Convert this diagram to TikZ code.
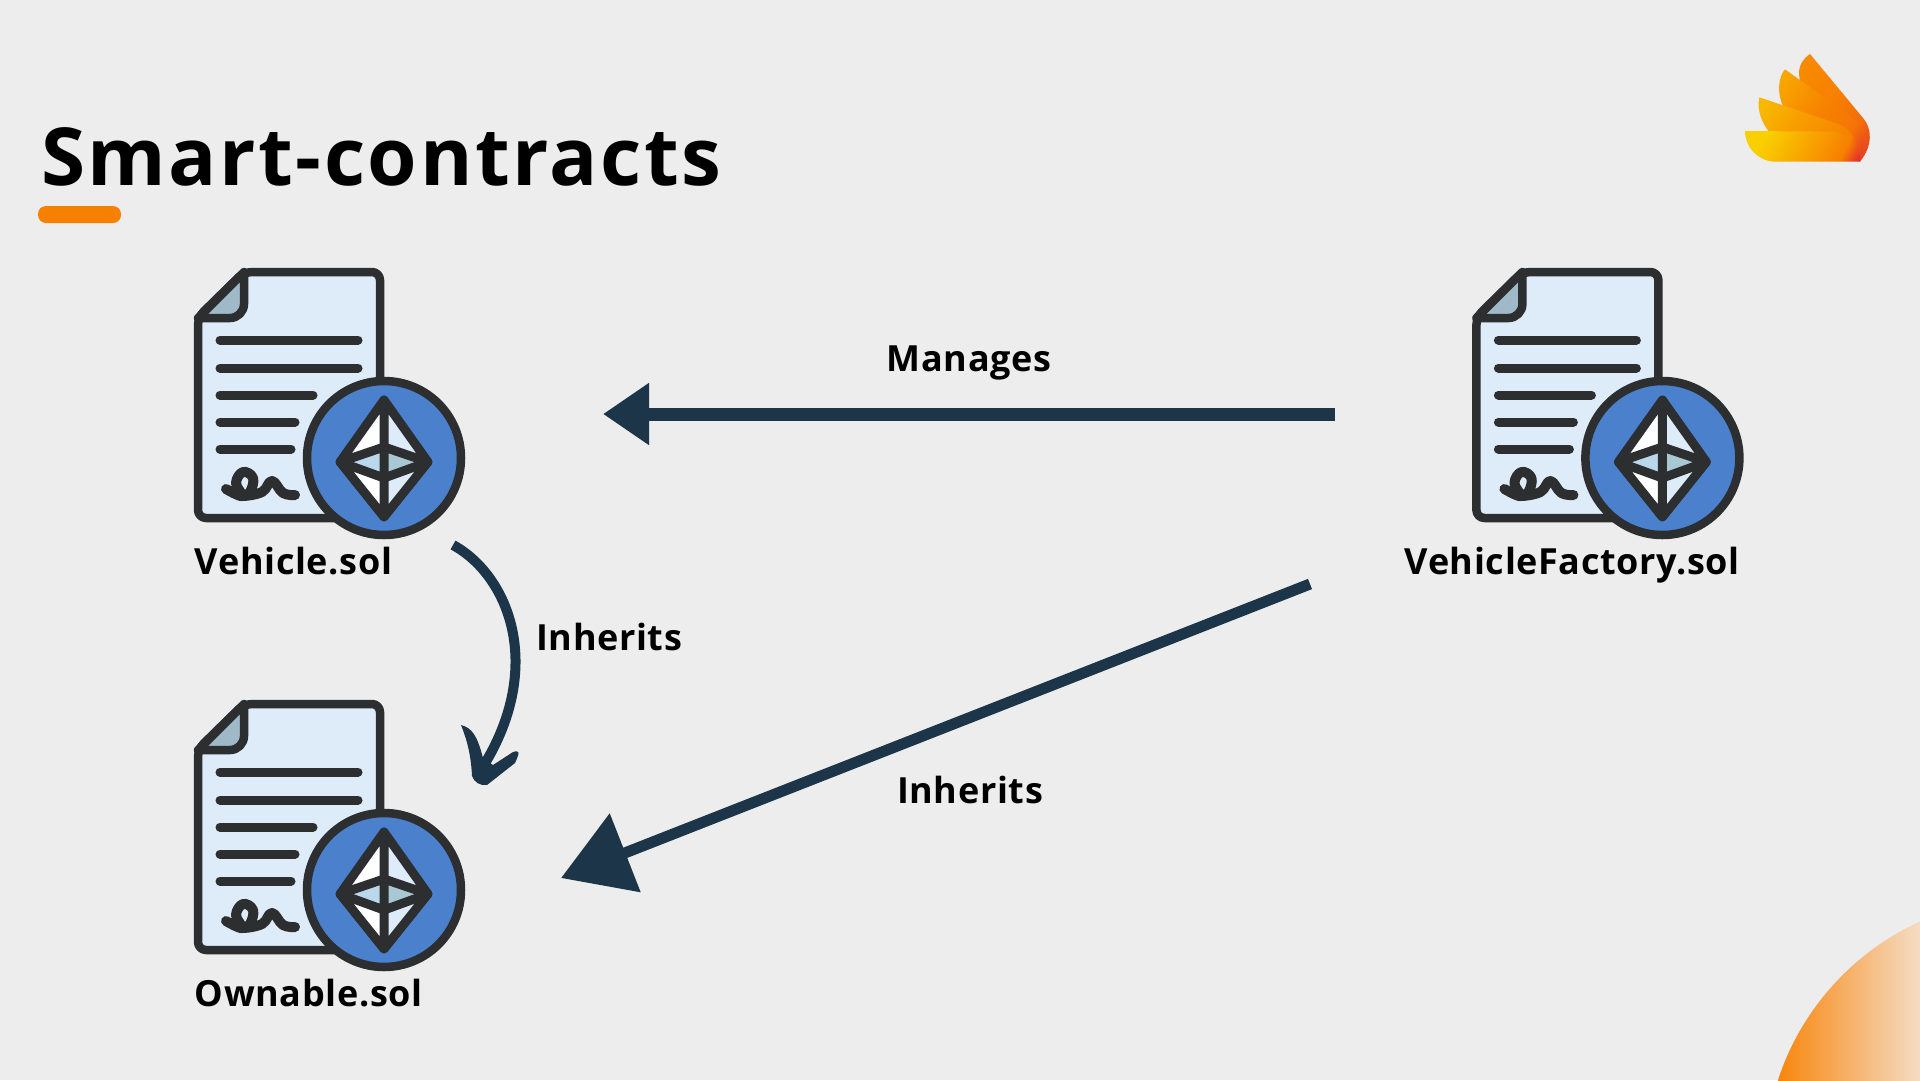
\documentclass[tikz,border=0pt]{standalone}
\usepackage{fontspec}
\setmainfont{Open Sans}
\newfontfamily\titlefont[LetterSpace=3.2]{Open Sans}
\newfontfamily\labelfont[LetterSpace=1.8]{Open Sans}
\usetikzlibrary{arrows.meta}
\definecolor{slidebg}{HTML}{EDEDED}
\definecolor{inkdark}{HTML}{2D2E30}
\definecolor{arrowblue}{HTML}{1D3549}
\definecolor{pagefill}{HTML}{DEEBF9}
\definecolor{foldfill}{HTML}{9FB9C9}
\definecolor{facetleft}{HTML}{B9D8EC}
\definecolor{facetright}{HTML}{A8C8D4}
\definecolor{coinblue}{HTML}{4A80CC}
\definecolor{logoyellow}{HTML}{F9CF00}
\definecolor{logoorange}{HTML}{F78000}
\definecolor{logored}{HTML}{E5352A}
\definecolor{cornerpale}{HTML}{F5DCC5}
\pgfdeclareverticalshading{featherback}{100bp}{color(0bp)=(logored); color(17bp)=(logored); color(34bp)=(logoorange!75!logored); color(55bp)=(logoorange); color(100bp)=(logoorange!75!logoyellow)}
\pgfdeclareverticalshading{feathermid}{100bp}{color(0bp)=(logored); color(17bp)=(logored); color(32bp)=(logoorange!85!logored); color(50bp)=(logoorange); color(80bp)=(logoorange!50!logoyellow); color(100bp)=(logoorange!50!logoyellow)}
\pgfdeclareverticalshading{feathernext}{100bp}{color(0bp)=(logored); color(17bp)=(logored); color(28bp)=(logoorange); color(60bp)=(logoorange!60!logoyellow); color(78bp)=(logoorange!30!logoyellow); color(100bp)=(logoorange!30!logoyellow)}
\pgfdeclareverticalshading{featherfront}{100bp}{color(0bp)=(logored); color(18bp)=(logored); color(27bp)=(logoorange); color(72bp)=(logoyellow); color(100bp)=(logoyellow)}
\tikzset{
    filename/.style={anchor=base west,inner sep=0,font=\fontsize{36}{36}\labelfont\bfseries},
    arrowtext/.style={anchor=base,inner sep=0,font=\fontsize{36}{36}\labelfont\bfseries},
    textline/.style={line width=9,line cap=round,draw=inkdark},
    contract/.pic={
        \draw[fill=pagefill,draw=inkdark,line width=8.5,rounded corners=8,line join=round] (244,272)--(380,272)--(380,518)--(198,518)--(198,317)--cycle;
        \draw[fill=foldfill,draw=inkdark,line width=8.5,line join=round] (244,272)--(244,304) arc (0:90:14)--(198,318)--cycle;
        \draw[textline] (220,340)--(358,340);
        \draw[textline] (220,368)--(358,368);
        \draw[textline] (220,395)--(313,395);
        \draw[textline] (220,422)--(295,422);
        \draw[textline] (220,449)--(291,449);
        \draw[draw=inkdark,line width=10,line cap=round,line join=round] plot[smooth,tension=0.7] coordinates {(226,489) (242,496) (236,483) (243,472) (253,478) (250,492) (243,496) (262,492) (272,481) (283,493) (295,495)};
        \draw[fill=coinblue,draw=inkdark,line width=8.5] (384,458) circle (77);
        \fill[white] (384,400)--(340,462)--(384,447)--cycle;
        \fill[pagefill] (384,400)--(428,462)--(384,447)--cycle;
        \fill[facetleft] (340,462)--(384,447)--(384,478)--cycle;
        \fill[facetright] (428,462)--(384,447)--(384,478)--cycle;
        \fill[white] (340,462)--(384,478)--(384,517)--cycle;
        \fill[pagefill] (428,462)--(384,478)--(384,517)--cycle;
        \draw[draw=inkdark,line width=9,line join=round,line cap=round] (384,400)--(428,462)--(384,517)--(340,462)--cycle (384,400)--(384,517) (340,462)--(384,447)--(428,462)--(384,478)--cycle;
    }
}
\begin{document}
\begin{tikzpicture}[x=1pt,y=-1pt]
    \useasboundingbox (0,0) rectangle (1920,1080);
    \fill[slidebg] (0,0) rectangle (1920,1080);

    % corner
    \begin{scope}
        \clip (0,0) rectangle (1920,1080);
        \clip (2029,1162) circle (264);
        \shade[left color=logoorange!95!white,right color=cornerpale] (1778,900) rectangle (1920,1080);
    \end{scope}

    % logo
    \begin{scope}[shift={(1720,30)},x=0.3333pt,y=-0.3333pt]
        \shade[shading=featherback,shading angle=55] (270,72)--(430,265) .. controls (455,295) and (460,345) .. (420,395)--(330,300)--(240,160)--(237,130) .. controls (237,105) and (250,85) .. (270,72)--cycle;
        \shade[shading=feathermid,shading angle=55] (195,118)--(400,265) .. controls (430,290) and (440,345) .. (420,395)--(300,320)--(190,230) .. controls (170,190) and (175,140) .. (195,118)--cycle;
        \shade[shading=feathernext,shading angle=55] (118,202)--(350,280) .. controls (395,295) and (420,340) .. (420,395)--(250,340)--(150,308) .. controls (125,280) and (110,240) .. (118,202)--cycle;
        \shade[shading=featherfront,shading angle=60] (75,303)--(340,305) .. controls (385,310) and (415,350) .. (420,395)--(160,395) .. controls (110,390) and (75,350) .. (75,303)--cycle;
    \end{scope}

    % title
    \node (title) at (41,185) [anchor=base west,inner sep=0,font=\fontsize{80}{80}\titlefont\bfseries] {Smart-contracts};
    \fill[logoorange] (38,206) [rounded corners=8] rectangle (121,223);

    \pic at (0,0) {contract};
    \pic at (1278.4,0) {contract};
    \pic at (0,432) {contract};

    \node (vehicle) at (194.7,574) [filename] {Vehicle.sol};
    \node (factory) at (1404.5,574) [filename] {VehicleFactory.sol};
    \node (ownable) at (194.7,1006) [filename] {Ownable.sol};

    \coordinate (manageStart) at (1335,414);
    \coordinate (manageEnd) at (603,414);
    \coordinate (inheritStart) at (1310,584);
    \coordinate (inheritEnd) at (561,878);
    \coordinate (curveStart) at (453,545);
    \coordinate (curveEnd) at (484,765);

    \draw[draw=arrowblue,line width=13,-{Triangle[length=46,width=59,fill=arrowblue]}] (manageStart)--(manageEnd);
    \draw[draw=arrowblue,line width=11,-{Triangle[length=69,width=82,fill=arrowblue]}] (inheritStart)--(inheritEnd);

    \draw[draw=arrowblue,line width=10] (curveStart) .. controls (508,575) and (545,665) .. (curveEnd);
    \fill[arrowblue] (461,725) .. controls (472,728) and (477,735) .. (483,758)--(493,765)--(513,752) .. controls (520,750) and (520,752) .. (515,763)--(487,785) .. controls (480,786) and (474,782) .. (472,776) .. controls (471,755) and (467,740) .. (461,725)--cycle;

    \node (manages) at (969,371) [arrowtext] {Manages};
    \node (inheritsOne) at (536,650) [filename] {Inherits};
    \node (inheritsTwo) at (970,803) [arrowtext] {Inherits};
\end{tikzpicture}
\end{document}
